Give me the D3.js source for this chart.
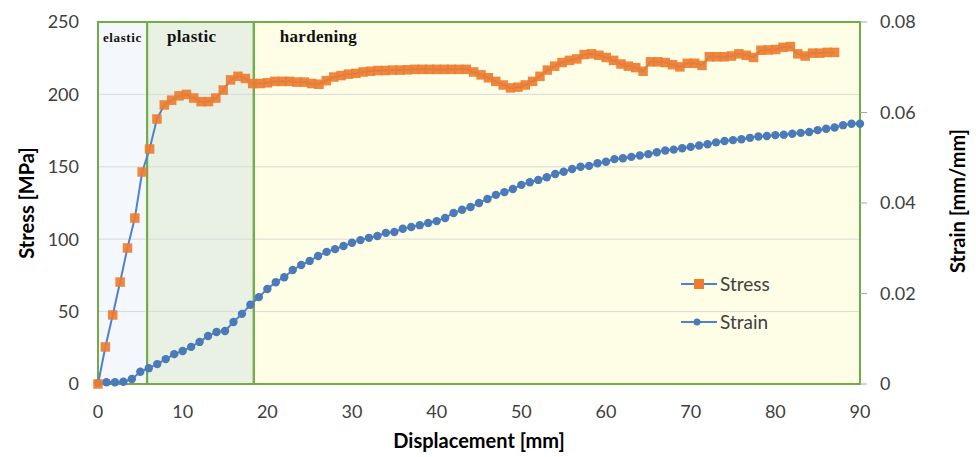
<!DOCTYPE html>
<html>
<head>
<meta charset="utf-8">
<script src="https://cdn.jsdelivr.net/npm/d3@7"></script>
<style>
  html, body { margin: 0; padding: 0; background: #ffffff; }
  svg { display: block; }
  .tick-label { font-family: Lato, "Open Sans", sans-serif; font-size: 18px; fill: #404040; }
  .axis-title { font-family: Lato, "Open Sans", sans-serif; font-size: 20px; font-weight: bold; fill: #000; }
  .phase-label { font-family: "Liberation Serif", "DejaVu Serif", serif; font-weight: bold; fill: #111; }
  .legend-label { font-family: Lato, "Open Sans", sans-serif; font-size: 19px; fill: #404040; }
</style>
</head>
<body>
<svg id="chart" width="976" height="457"></svg>
<script>
// Displacement [mm] of every stress reading
const stressDisp = [
  0, 0.87, 1.74, 2.61, 3.48, 4.35, 5.22, 6.09, 6.96, 7.83,
  8.7, 9.57, 10.44, 11.31, 12.18, 13.05, 13.92, 14.79, 15.66, 16.53,
  17.4, 18.27, 19.14, 20.01, 20.88, 21.75, 22.62, 23.49, 24.36, 25.23,
  26.1, 26.97, 27.84, 28.71, 29.58, 30.45, 31.32, 32.19, 33.06, 33.93,
  34.8, 35.67, 36.54, 37.41, 38.28, 39.15, 40.02, 40.89, 41.76, 42.63,
  43.5, 44.37, 45.24, 46.11, 46.98, 47.85, 48.72, 49.59, 50.46, 51.33,
  52.2, 53.07, 53.94, 54.81, 55.68, 56.55, 57.42, 58.29, 59.16, 60.03,
  60.9, 61.77, 62.64, 63.51, 64.38, 65.25, 66.12, 66.99, 67.86, 68.73,
  69.6, 70.47, 71.34, 72.21, 73.08, 73.95, 74.82, 75.69, 76.56, 77.43,
  78.3, 79.17, 80.04, 80.91, 81.78, 82.65, 83.52, 84.39, 85.26, 86.13,
  87.0
];
// Stress [MPa]
const stressMPa = [
  0, 25.6, 47.7, 70.4, 93.9, 114.6, 146.4, 162.3, 183, 192.7,
  196, 199, 200, 197.5, 195, 195, 197.5, 203, 210, 212.5,
  211, 207.5, 207.5, 208, 209, 209, 209, 208.5, 208.5, 207.5,
  207, 209.5, 212, 213, 214, 214.5, 215.5, 216, 216.5, 216.5,
  216.8, 216.8, 217, 217.3, 217.3, 217.3, 217.3, 217.3, 217.3, 217.3,
  217.3, 215.5, 213.5, 211.5, 209, 206.5, 204.5, 205, 206.5, 209,
  212.5, 216.8, 219.5, 222, 223.5, 224.5, 227.5, 228, 227, 225.5,
  223.5, 221, 219.5, 218.5, 216, 222.5, 222.5, 222, 220.5, 219,
  221.5, 221.5, 220, 226, 226, 226, 226.5, 228, 227, 225.5,
  230.5, 230.7, 231, 232.5, 233, 228, 226.5, 228.5, 228.5, 229,
  229
];
// Displacement [mm] of every strain reading
const strainDisp = [
  0, 1, 2, 3, 4, 5, 6, 7, 8, 9,
  10, 11, 12, 13, 14, 15, 16, 17, 18, 19,
  20, 21, 22, 23, 24, 25, 26, 27, 28, 29,
  30, 31, 32, 33, 34, 35, 36, 37, 38, 39,
  40, 41, 42, 43, 44, 45, 46, 47, 48, 49,
  50, 51, 52, 53, 54, 55, 56, 57, 58, 59,
  60, 61, 62, 63, 64, 65, 66, 67, 68, 69,
  70, 71, 72, 73, 74, 75, 76, 77, 78, 79,
  80, 81, 82, 83, 84, 85, 86, 87, 88, 89,
  90
];
// Strain [mm/mm]
const strainVal = [
  0.0002, 0.0004, 0.0004, 0.0005, 0.0011, 0.0027, 0.0035, 0.0044, 0.0055, 0.0066,
  0.0073, 0.0082, 0.0093, 0.0106, 0.0115, 0.0117, 0.0137, 0.0155, 0.0175, 0.0192,
  0.0210, 0.0225, 0.0236, 0.0252, 0.0263, 0.0272, 0.0283, 0.0292, 0.0298, 0.0305,
  0.0312, 0.0318, 0.0323, 0.0327, 0.0334, 0.0336, 0.0343, 0.0347, 0.0351, 0.0356,
  0.0360, 0.0367, 0.0378, 0.0385, 0.0391, 0.0400, 0.0409, 0.0418, 0.0424, 0.0431,
  0.0440, 0.0446, 0.0451, 0.0457, 0.0464, 0.0469, 0.0475, 0.0480, 0.0482, 0.0488,
  0.0491, 0.0497, 0.0499, 0.0502, 0.0505, 0.0508, 0.0512, 0.0516, 0.0518, 0.0521,
  0.0524, 0.0527, 0.0530, 0.0534, 0.0537, 0.0539, 0.0541, 0.0544, 0.0547, 0.0548,
  0.0550, 0.0551, 0.0553, 0.0555, 0.0557, 0.0561, 0.0564, 0.0567, 0.0572, 0.0575,
  0.0575
];
// Deformation phases (start/end displacement)
const phaseNames = ["elastic", "plastic", "hardening"];
const phaseStart = [0, 5.8, 18.4];
const phaseEnd = [5.8, 18.4, 90];
// Axis ticks
const xTicks = [0, 10, 20, 30, 40, 50, 60, 70, 80, 90];
const stressTicks = [0, 50, 100, 150, 200, 250];
const strainTicks = [0, 0.02, 0.04, 0.06, 0.08];
const strainTickLabels = ["0", "0.02", "0.04", "0.06", "0.08"];
const seriesNames = ["Stress", "Strain"];

const W = 976, H = 457;
const margin = { left: 98, right: 116, top: 22, bottom: 73 };
const svg = d3.select("#chart");

const x = d3.scaleLinear().domain([0, 90]).range([margin.left, W - margin.right]);
const yStress = d3.scaleLinear().domain([0, 250]).range([H - margin.bottom, margin.top]);
const yStrain = d3.scaleLinear().domain([0, 0.08]).range([H - margin.bottom, margin.top]);

const phaseFill = ["#f4f8fd", "#e9f1e4", "#fefde6"];
const green = "#70ad47";
const lineBlue = "#4f81d0";
const dotBlue = "#4a7ab8";
const orange = "#ed7d31";

const phases = phaseNames.map((n, i) => ({ name: n, a: phaseStart[i], b: phaseEnd[i] }));

// phase background panels
svg.append("g").selectAll("rect").data(phases).join("rect")
  .attr("x", d => x(d.a)).attr("width", d => x(d.b) - x(d.a))
  .attr("y", yStress(250)).attr("height", yStress(0) - yStress(250))
  .attr("fill", (d, i) => phaseFill[i]);

// horizontal gridlines
svg.append("g").selectAll("line").data(stressTicks.filter(t => t > 0 && t < 250)).join("line")
  .attr("x1", x(0)).attr("x2", x(90))
  .attr("y1", d => yStress(d)).attr("y2", d => yStress(d))
  .attr("stroke", "#d9d9d9").attr("stroke-width", 1);

// phase outlines
svg.append("g").selectAll("rect").data(phases).join("rect")
  .attr("x", d => x(d.a)).attr("width", d => x(d.b) - x(d.a))
  .attr("y", yStress(250)).attr("height", yStress(0) - yStress(250))
  .attr("fill", "none").attr("stroke", green).attr("stroke-width", 2);

// phase names
const phaseFont = [13, 17, 17];
const phaseSpacing = [0.6, 0.3, 0.3];
const phaseDx = [5, 20, 26];
svg.append("g").selectAll("text").data(phases).join("text")
  .attr("class", "phase-label")
  .attr("x", (d, i) => x(d.a) + phaseDx[i])
  .attr("y", 42)
  .style("font-size", (d, i) => phaseFont[i] + "px")
  .style("letter-spacing", (d, i) => phaseSpacing[i] + "px")
  .text(d => d.name);

// left axis labels
svg.append("g").selectAll("text").data(stressTicks).join("text")
  .attr("class", "tick-label")
  .attr("x", 79).attr("y", d => yStress(d)).attr("dy", "0.35em")
  .attr("text-anchor", "end").text(d => d);

// right axis ticks and labels
const rAxis = svg.append("g");
rAxis.selectAll("line").data(strainTicks).join("line")
  .attr("x1", x(90)).attr("x2", x(90) + 7)
  .attr("y1", d => yStrain(d)).attr("y2", d => yStrain(d))
  .attr("stroke", "#a6a6a6").attr("stroke-width", 1);
rAxis.selectAll("text").data(strainTicks).join("text")
  .attr("class", "tick-label")
  .attr("x", 880).attr("y", d => yStrain(d)).attr("dy", "0.35em")
  .text((d, i) => strainTickLabels[i]);

// bottom axis labels
svg.append("g").selectAll("text").data(xTicks).join("text")
  .attr("class", "tick-label")
  .attr("x", d => x(d)).attr("y", 412).attr("dy", "0.35em")
  .attr("text-anchor", "middle").text(d => d);

// axis titles
svg.append("text").attr("class", "axis-title")
  .attr("transform", "translate(34,203) rotate(-90)")
  .attr("text-anchor", "middle").text("Stress [MPa]");
svg.append("text").attr("class", "axis-title")
  .attr("transform", "translate(965,201) rotate(-90)")
  .attr("text-anchor", "middle").text("Strain [mm/mm]");
svg.append("text").attr("class", "axis-title")
  .attr("x", 479).attr("y", 448)
  .attr("text-anchor", "middle").text("Displacement [mm]");

// strain series
const strainPts = strainDisp.map((d, i) => [d, strainVal[i]]);
svg.append("path").datum(strainPts)
  .attr("fill", "none").attr("stroke", lineBlue).attr("stroke-width", 2)
  .attr("d", d3.line().x(d => x(d[0])).y(d => yStrain(d[1])));
svg.append("g").selectAll("circle").data(strainPts).join("circle")
  .attr("cx", d => x(d[0])).attr("cy", d => yStrain(d[1])).attr("r", 4.2)
  .attr("fill", dotBlue);

// stress series
const stressPts = stressDisp.map((d, i) => [d, stressMPa[i]]);
svg.append("path").datum(stressPts)
  .attr("fill", "none").attr("stroke", lineBlue).attr("stroke-width", 2)
  .attr("d", d3.line().x(d => x(d[0])).y(d => yStress(d[1])));
const sq = 9.5;
svg.append("g").selectAll("rect").data(stressPts).join("rect")
  .attr("x", d => x(d[0]) - sq / 2).attr("y", d => yStress(d[1]) - sq / 2)
  .attr("width", sq).attr("height", sq)
  .attr("fill", orange).attr("fill-opacity", 0.92);

// legend
const legend = svg.append("g");
const legY = [284, 322];
legend.selectAll("line").data(seriesNames).join("line")
  .attr("x1", 681).attr("x2", 717)
  .attr("y1", (d, i) => legY[i]).attr("y2", (d, i) => legY[i])
  .attr("stroke", lineBlue).attr("stroke-width", 2);
legend.append("rect").attr("x", 699 - 5).attr("y", legY[0] - 5)
  .attr("width", 10).attr("height", 10).attr("fill", orange);
legend.append("circle").attr("cx", 697).attr("cy", legY[1]).attr("r", 3.5).attr("fill", dotBlue);
legend.selectAll("text").data(seriesNames).join("text")
  .attr("class", "legend-label")
  .attr("x", 720).attr("y", (d, i) => legY[i]).attr("dy", "0.35em")
  .text(d => d);
</script>
</body>
</html>
